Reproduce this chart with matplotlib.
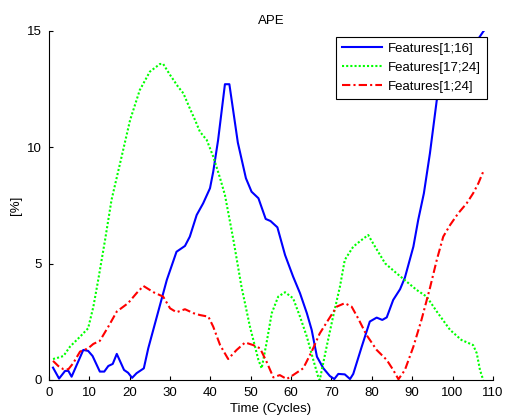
import matplotlib
matplotlib.use('Agg')
import matplotlib.pyplot as plt

plt.rcParams['font.family'] = ['Liberation Sans', 'DejaVu Sans']

# Features[1;16]
x_blue = [1, 2.5, 4, 4.8, 5.6, 8.5, 9.7, 10.8, 12.6, 13.7, 14.7, 15.8, 16.8, 18.6, 19.6,
          20.6, 21.7, 23.5, 24.6, 29.2, 31.6, 33.7, 34.9, 36.6, 38.2, 39.9, 40.7, 41.9,
          43.6, 44.7, 46.8, 48.8, 50.2, 51.9, 53.7, 54.9, 56.6, 58.5, 60.5, 62.2, 63.9,
          65.1, 66.4, 68, 69.6, 70.7, 71.7, 73.3, 74.6, 75.4, 77.5, 79.5, 81.2, 82.6,
          83.7, 85.3, 87, 88.2, 90.3, 91.5, 92.9, 94.4, 96.1, 107.6, 108.2]
y_blue = [0.53, 0.06, 0.39, 0.39, 0.14, 1.29, 1.25, 1.03, 0.36, 0.36, 0.6, 0.69, 1.12, 0.43, 0.31,
          0.09, 0.29, 0.5, 1.36, 4.3, 5.51, 5.76, 6.16, 7.09, 7.59, 8.24, 8.95, 10.3,
          12.71, 12.71, 10.2, 8.67, 8.09, 7.81, 6.92, 6.83, 6.56, 5.37, 4.44, 3.73, 2.87,
          2.15, 1.0, 0.5, 0.17, 0.04, 0.26, 0.24, 0.04, 0.26, 1.43, 2.51, 2.68, 2.58,
          2.69, 3.44, 3.9, 4.4, 5.73, 6.88, 8.02, 9.74, 12.03, 14.97, 15.1]

# Features[17;24]
x_green = [1, 2.3, 3.6, 5.2, 7.7, 9.7, 11, 12.2, 13.9, 15.5, 17.6, 20.1, 22.5, 25, 27.5,
           28.3, 30, 32, 33.3, 34.9, 36.2, 37.4, 39.1, 40.7, 42.4, 43.6, 45.7, 47.7, 49.8,
           51.9, 52.7, 53.9, 55.2, 56.8, 58.5, 60.5, 62.2, 63.9, 65.5, 66.7, 67.1, 68.8,
           70.4, 72.1, 73.3, 75.4, 77.5, 79.1, 80.8, 83.3, 86.1, 88.6, 91.1, 93.6, 96.1,
           99.4, 102.2, 105.1, 106, 106.8, 107.6]
y_green = [0.9, 0.96, 1.03, 1.43, 1.86, 2.22, 3.15, 4.3, 6.02, 7.74, 9.3, 11.17, 12.46, 13.25, 13.58,
           13.58, 13.11, 12.6, 12.32, 11.67, 11.17, 10.67, 10.31, 9.6, 8.67, 7.95, 6.02, 4.01, 2.29,
           0.86, 0.5, 1.58, 2.87, 3.58, 3.77, 3.51, 2.72, 1.86, 0.86, 0.14, 0.0, 1.43,
           2.72, 4.01, 5.16, 5.73, 6.02, 6.23, 5.73, 5.01, 4.59, 4.23, 3.87, 3.58, 2.94,
           2.15, 1.72, 1.5, 1.15, 0.43, 0.0]

# Features[1;24]
x_red = [1, 2.3, 3.6, 4.8, 6, 7.7, 9.7, 11, 12.6, 14.7, 16.8, 19.6, 21.7, 23.4, 25.9,
         28.3, 30, 31.6, 33.7, 35.8, 37.4, 39.5, 40.7, 42.4, 44.4, 46.5, 48.6, 50.6,
         52.3, 53.9, 55.6, 57.2, 58.9, 60.5, 63, 65.1, 67.1, 69.2, 71.3, 73.3, 75,
         76.6, 78.7, 81.2, 83.7, 85.3, 86.6, 88.2, 90.3, 92.3, 94.4, 96.1, 97.7, 99.4,
         101.4, 103.5, 105.1, 106.4, 107.6]
y_red = [0.82, 0.6, 0.46, 0.46, 0.72, 1.22, 1.36, 1.55, 1.68, 2.29, 2.94, 3.3, 3.73, 4.04, 3.77,
         3.58, 3.08, 2.91, 3.04, 2.87, 2.79, 2.72, 2.29, 1.5, 0.9, 1.29, 1.61, 1.5,
         1.36, 0.79, 0.11, 0.21, 0.04, 0.21, 0.5, 1.22, 2.0, 2.58, 3.15, 3.3, 3.15,
         2.65, 1.93, 1.29, 0.86, 0.43, 0.03, 0.43, 1.43, 2.58, 3.95, 5.16, 6.16, 6.66,
         7.16, 7.59, 8.02, 8.45, 8.95]

fig = plt.figure(figsize=(5.05, 4.18), dpi=100)
ax = fig.add_axes([0.097, 0.091, 0.879, 0.835])

ax.plot(x_blue, y_blue, color='#0000ff', lw=1.5, label='Features[1;16]')
ax.plot(x_green, y_green, color='#00ff00', lw=1.5, ls=(0, (1, 1)), label='Features[17;24]')
ax.plot(x_red, y_red, color='#ff0000', lw=1.5, ls=(0, (4, 1.5, 1, 1.5)), label='Features[1;24]')

ax.set_xlim(0, 110)
ax.set_ylim(0, 15)
ax.set_xticks(range(0, 111, 10))
ax.set_yticks([0, 5, 10, 15])
ax.spines['top'].set_visible(False)
ax.spines['right'].set_visible(False)
ax.tick_params(direction='in', length=3, labelsize=9.5)
ax.tick_params(axis='x', pad=5)
ax.tick_params(axis='y', pad=5)

ax.set_title('APE', fontsize=9.5, pad=5)
ax.set_xlabel('Time (Cycles)', fontsize=9.5, labelpad=3)
ax.set_ylabel('[%]', fontsize=9.5, labelpad=4)

leg = ax.legend(loc='upper right', bbox_to_anchor=(0.987, 0.983), fontsize=9.5,
                fancybox=False, framealpha=1, edgecolor='black', handlelength=3.0,
                borderaxespad=0, labelspacing=0.5, borderpad=0.45, handletextpad=0.5)
leg.get_frame().set_linewidth(0.8)

fig.savefig('out.png', dpi=100)
